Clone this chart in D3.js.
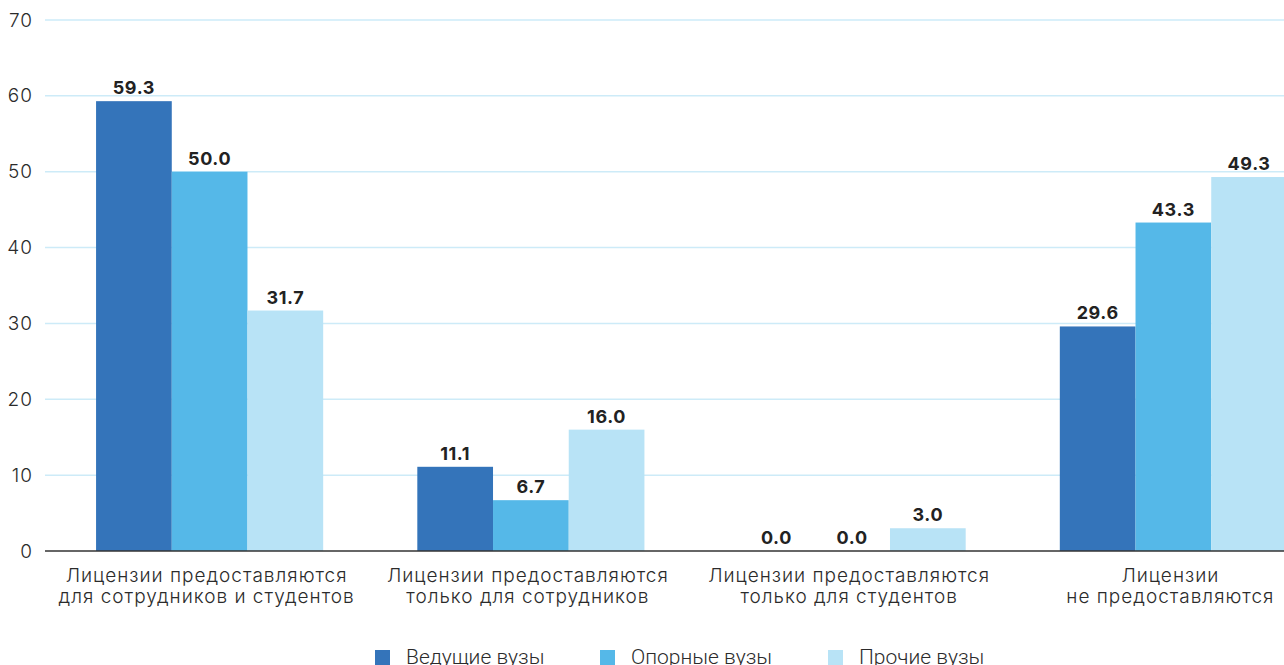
<!DOCTYPE html>
<html>
<head>
<meta charset="utf-8">
<script src="https://cdn.jsdelivr.net/npm/d3@7"></script>
<style>
  html, body { margin: 0; padding: 0; background: #fff; overflow: hidden; }
  svg { display: block; }
</style>
</head>
<body>
<svg id="chart" width="1284" height="665"></svg>
<script>
// Categories (two-line labels) and series
const categories = [
  ["Лицензии предоставляются", "для сотрудников и студентов"],
  ["Лицензии предоставляются", "только для сотрудников"],
  ["Лицензии предоставляются", "только для студентов"],
  ["Лицензии", "не предоставляются"]
];
const seriesNames = ["Ведущие вузы", "Опорные вузы", "Прочие вузы"];
const leading = [59.3, 11.1, 0.0, 29.6];
const core = [50.0, 6.7, 0.0, 43.3];
const other = [31.7, 16.0, 3.0, 49.3];
const yTicks = [0, 10, 20, 30, 40, 50, 60, 70];

const colors = ["#3474BA", "#55B8E8", "#B8E3F6"];
const seriesValues = [leading, core, other];

const svg = d3.select("#chart");
const yTop = 20, yBottom = 551, xLeft = 45, xRight = 1284;

const y = d3.scaleLinear().domain([0, 70]).range([yBottom, yTop]);
const x0 = d3.scaleBand()
  .domain(d3.range(categories.length))
  .range([49, 1334])
  .paddingInner(0.293)
  .paddingOuter(0.1465);
const x1 = d3.scaleBand()
  .domain(d3.range(seriesNames.length))
  .range([0, x0.bandwidth()]);

// Gridlines
svg.append("g")
  .selectAll("line")
  .data(yTicks.filter(d => d > 0))
  .join("line")
  .attr("x1", xLeft).attr("x2", xRight)
  .attr("y1", d => y(d)).attr("y2", d => y(d))
  .attr("stroke", "#CDEBF8").attr("stroke-width", 1.5);

// Y tick labels
const yAxis = d3.axisLeft(y).tickValues(yTicks).tickSize(0).tickPadding(0);
const gy = svg.append("g").attr("transform", `translate(33,0)`).call(yAxis);
gy.select(".domain").remove();
gy.selectAll("text")
  .attr("font-family", "Inter, 'Open Sans', sans-serif")
  .attr("font-weight", 300)
  .attr("font-size", 19)
  .attr("letter-spacing", 1)
  .attr("fill", "#2b2b2b");

// Bars
const groups = svg.append("g")
  .selectAll("g")
  .data(categories.map((c, i) => i))
  .join("g")
  .attr("transform", i => `translate(${x0(i)},0)`);

groups.selectAll("rect")
  .data(i => seriesValues.map((s, k) => ({ k, v: s[i] })))
  .join("rect")
  .attr("x", d => x1(d.k))
  .attr("width", x1.bandwidth())
  .attr("y", d => y(d.v))
  .attr("height", d => y(0) - y(d.v))
  .attr("fill", d => colors[d.k]);

groups.selectAll("text.val")
  .data(i => seriesValues.map((s, k) => ({ k, v: s[i] })))
  .join("text")
  .attr("class", "val")
  .attr("x", d => x1(d.k) + x1.bandwidth() / 2)
  .attr("y", d => y(d.v) - 7)
  .attr("text-anchor", "middle")
  .attr("font-family", "Inter, 'Open Sans', sans-serif")
  .attr("font-weight", 700)
  .attr("font-size", 18)
  .attr("letter-spacing", 0.6)
  .attr("fill", "#222")
  .text(d => d3.format(".1f")(d.v));

// Baseline
svg.append("line")
  .attr("x1", xLeft).attr("x2", xRight)
  .attr("y1", y(0)).attr("y2", y(0))
  .attr("stroke", "#333").attr("stroke-width", 1.5);

// Category labels
const catG = svg.append("g");
categories.forEach((lines, i) => {
  const cx = x0(i) + x0.bandwidth() / 2 - 3;
  const t = catG.append("text")
    .attr("x", cx)
    .attr("y", 582)
    .attr("text-anchor", "middle")
    .attr("font-family", "Inter, 'Open Sans', sans-serif")
    .attr("font-weight", 300)
    .attr("font-size", 19)
    .attr("letter-spacing", 1)
    .attr("fill", "#2b2b2b");
  lines.forEach((ln, j) => {
    t.append("tspan").attr("x", cx).attr("dy", j === 0 ? 0 : 21).text(ln);
  });
});

// Legend
const legendX = [375, 600, 828];
const leg = svg.append("g");
seriesNames.forEach((name, k) => {
  leg.append("rect")
    .attr("x", legendX[k]).attr("y", 650)
    .attr("width", 15).attr("height", 15)
    .attr("fill", colors[k]);
  leg.append("text")
    .attr("x", legendX[k] + 31).attr("y", 664)
    .attr("font-family", "Roboto, sans-serif")
    .attr("font-weight", 300)
    .attr("font-size", 21)
    .attr("fill", "#2b2b2b")
    .text(name);
});
</script>
</body>
</html>
